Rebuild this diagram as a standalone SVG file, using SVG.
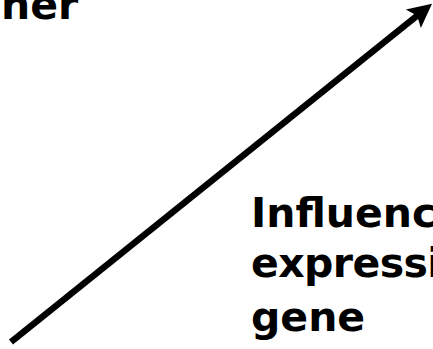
<svg xmlns="http://www.w3.org/2000/svg" width="433" height="349" viewBox="0 0 433 349">
  <style>
    .lbl { font-family: "DejaVu Sans", "Liberation Sans", sans-serif; font-weight: bold; font-size: 41px; fill: #000; }
    .tight { letter-spacing: -0.6px; }
    .conn { stroke: #000; stroke-width: 6.5; fill: none; }
  </style>
  <defs>
    <marker id="head" markerUnits="userSpaceOnUse" markerWidth="30" markerHeight="30" refX="6" refY="0" orient="auto" overflow="visible">
      <path d="M0,-12 L24,0 L0,12 L5,0 Z" fill="#000"/>
    </marker>
  </defs>
  <rect width="433" height="349" fill="#fff"/>
  <g id="connectors">
    <line class="conn" x1="11" y1="342" x2="418" y2="15" marker-end="url(#head)"/>
  </g>
  <g id="node-top">
    <text class="lbl" x="1" y="19">her</text>
  </g>
  <g id="node-influence">
    <text class="lbl" x="251" y="227">Influenc</text>
    <text class="lbl tight" x="251" y="277">expressi</text>
    <text class="lbl" x="251" y="331">gene</text>
  </g>
</svg>
